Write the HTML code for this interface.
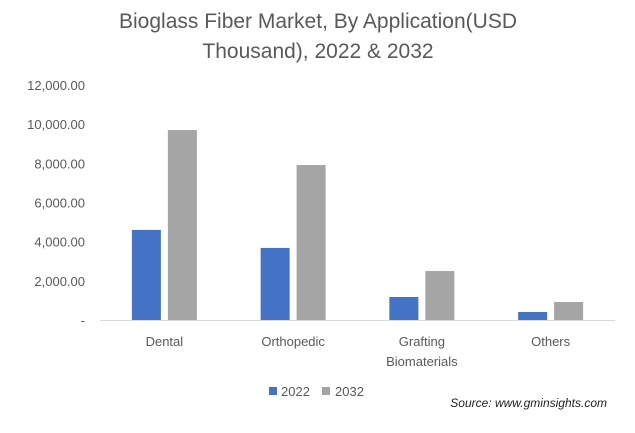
<!DOCTYPE html>
<html><head><meta charset="utf-8"><style>
body{margin:0;background:#fff;}
svg{display:block;font-family:"Liberation Sans",sans-serif;}
</style></head><body>
<svg id="chart" width="635" height="433">
<text x="318" y="28" text-anchor="middle" font-size="21" fill="#595959">Bioglass Fiber Market, By Application(USD</text>
<text x="318" y="58" text-anchor="middle" font-size="21" fill="#595959">Thousand), 2022 &amp; 2032</text>
<g id="axes"></g><g id="bars"></g>
<rect x="269" y="387" width="8" height="8" fill="#4472c4"/>
<text x="281" y="396" font-size="13" fill="#595959">2022</text>
<rect x="322" y="387" width="8" height="8" fill="#a5a5a5"/>
<text x="335" y="396" font-size="13" fill="#595959">2032</text>
<text x="607" y="407" text-anchor="end" font-size="12" font-style="italic" fill="#222">Source: www.gminsights.com</text>
</svg>
<script>
const categories=[["Dental"],["Orthopedic"],["Grafting","Biomaterials"],["Others"]];
const values2022=[4600,3680,1175,410];
const values2032=[9700,7915,2500,920];
const tickValues=[0,2000,4000,6000,8000,10000,12000];
const tickLabels=["-","2,000.00","4,000.00","6,000.00","8,000.00","10,000.00","12,000.00"];
const NS="http://www.w3.org/2000/svg";
const x0=100,x1=615,y0=320,yTop=85,yMax=12000;
function yScale(v){return y0-(v/yMax)*(y0-yTop);}
const bw=(x1-x0)/categories.length;
function xCenter(i){return x0+bw*(i+0.5);}
function mk(tag,attrs,parent){const e=document.createElementNS(NS,tag);for(const k in attrs)e.setAttribute(k,attrs[k]);parent.appendChild(e);return e;}
const axes=document.getElementById('axes'),bars=document.getElementById('bars');
tickValues.forEach((v,i)=>{
  const t=mk('text',{x:85,y:yScale(v)+5,'text-anchor':'end','font-size':13,fill:'#595959'},axes);
  t.textContent=tickLabels[i];
  
  
});
const ax=mk('line',{x1:x0,x2:x1,y1:y0+0.5,y2:y0+0.5,stroke:'#d9d9d9','stroke-width':1},axes);


const barW=29,gap=7;
categories.forEach((c,i)=>{
  const cx=xCenter(i);
  const b1=mk('rect',{x:cx-gap/2-barW,y:yScale(values2022[i]),width:barW,height:y0-yScale(values2022[i]),fill:'#4472c4'},bars);
  
  
  const b2=mk('rect',{x:cx+gap/2,y:yScale(values2032[i]),width:barW,height:y0-yScale(values2032[i]),fill:'#a5a5a5'},bars);
  
  
  c.forEach((line,j)=>{
    const t=mk('text',{x:cx,y:346+j*20,'text-anchor':'middle','font-size':13,fill:'#595959'},axes);
    t.textContent=line;
    
    
  });
});
</script>
</body></html>
